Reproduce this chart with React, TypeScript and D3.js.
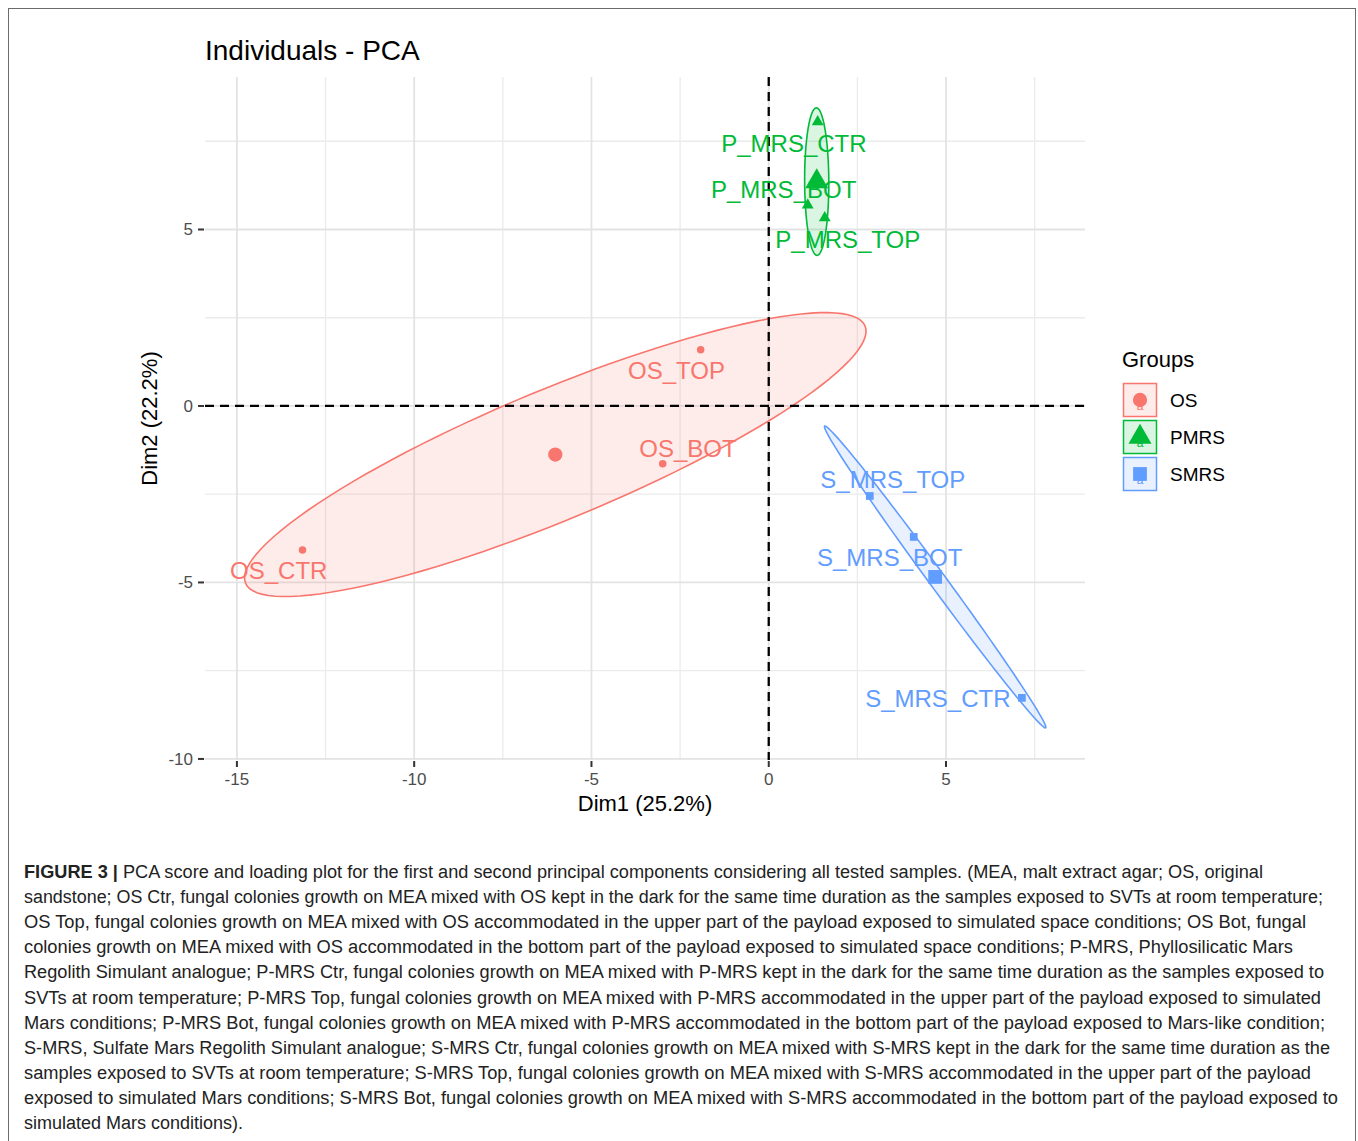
import React from "react";
import * as d3 from "d3";

// ---------- data ----------
const groups = ["OS", "PMRS", "SMRS"];
const groupColors = ["#F8766D", "#00BA38", "#619CFF"];
const sampleNames = [
  "OS_TOP", "OS_BOT", "OS_CTR",
  "P_MRS_CTR", "P_MRS_BOT", "P_MRS_TOP",
  "S_MRS_TOP", "S_MRS_BOT", "S_MRS_CTR",
];
const sampleGroups = ["OS", "OS", "OS", "PMRS", "PMRS", "PMRS", "SMRS", "SMRS", "SMRS"];
const dim1 = [-1.92, -2.99, -13.15, 1.38, 1.1, 1.58, 2.85, 4.09, 7.14];
const dim2 = [1.59, -1.64, -4.08, 8.05, 5.69, 5.33, -2.55, -3.71, -8.27];
// repelled label anchors (data units, text baseline)
const labelDim1 = [-2.6, -2.28, -13.82, 0.71, 0.42, 2.23, 3.5, 3.41, 4.77];
const labelDim2 = [0.76, -1.44, -4.9, 7.2, 5.89, 4.48, -2.32, -4.53, -8.53];

const xTicks = [-15, -10, -5, 0, 5];
const yTicks = [-10, -5, 0, 5];
const xMinor = [-12.5, -7.5, -2.5, 2.5, 7.5];
const yMinor = [-7.5, -2.5, 2.5, 7.5];
const xDomain = [-15.9, 8.92];
const yDomain = [-10.03, 9.32];

const title = "Individuals - PCA";
const xTitle = "Dim1 (25.2%)";
const yTitle = "Dim2 (22.2%)";
const legendTitle = "Groups";

const captionLines = [
  "PCA score and loading plot for the first and second principal components considering all tested samples. (MEA, malt extract agar; OS, original",
  "sandstone; OS Ctr, fungal colonies growth on MEA mixed with OS kept in the dark for the same time duration as the samples exposed to SVTs at room temperature;",
  "OS Top, fungal colonies growth on MEA mixed with OS accommodated in the upper part of the payload exposed to simulated space conditions; OS Bot, fungal",
  "colonies growth on MEA mixed with OS accommodated in the bottom part of the payload exposed to simulated space conditions; P-MRS, Phyllosilicatic Mars",
  "Regolith Simulant analogue; P-MRS Ctr, fungal colonies growth on MEA mixed with P-MRS kept in the dark for the same time duration as the samples exposed to",
  "SVTs at room temperature; P-MRS Top, fungal colonies growth on MEA mixed with P-MRS accommodated in the upper part of the payload exposed to simulated",
  "Mars conditions; P-MRS Bot, fungal colonies growth on MEA mixed with P-MRS accommodated in the bottom part of the payload exposed to Mars-like condition;",
  "S-MRS, Sulfate Mars Regolith Simulant analogue; S-MRS Ctr, fungal colonies growth on MEA mixed with S-MRS kept in the dark for the same time duration as the",
  "samples exposed to SVTs at room temperature; S-MRS Top, fungal colonies growth on MEA mixed with S-MRS accommodated in the upper part of the payload",
  "exposed to simulated Mars conditions; S-MRS Bot, fungal colonies growth on MEA mixed with S-MRS accommodated in the bottom part of the payload exposed to",
  "simulated Mars conditions).",
];
const captionLabel = "FIGURE 3 | ";
const captionEnds = [1263, 1323, 1306, 1293, 1324, 1321, 1325, 1330, 1311, 1338, 243];

// ellipse radius: sqrt(2 * qf(0.5, 2, 2)) = sqrt(2)
const ellipseRadius = Math.SQRT2;

// ---------- layout ----------
const W = 1358;
const H = 1141;
const panel = { left: 205, right: 1085, top: 77, bottom: 760 };
const FONT = "'Liberation Sans', Arial, Helvetica, sans-serif";

const symbolFor = (g: string) =>
  g === "OS" ? d3.symbolCircle : g === "PMRS" ? d3.symbolTriangle : d3.symbolSquare;

export default function App() {
  const x = d3.scaleLinear().domain(xDomain).range([panel.left, panel.right]);
  const y = d3.scaleLinear().domain(yDomain).range([panel.bottom, panel.top]);

  const groupData = groups.map((g, gi) => {
    const idx = sampleNames.map((_, i) => i).filter((i) => sampleGroups[i] === g);
    const xs = idx.map((i) => dim1[i]);
    const ys = idx.map((i) => dim2[i]);
    const mx = d3.mean(xs) as number;
    const my = d3.mean(ys) as number;
    const n = xs.length;
    let a = 0, b = 0, c = 0;
    for (let k = 0; k < n; k++) {
      a += (xs[k] - mx) ** 2;
      b += (xs[k] - mx) * (ys[k] - my);
      c += (ys[k] - my) ** 2;
    }
    a /= n - 1; b /= n - 1; c /= n - 1;
    const half = (a + c) / 2;
    const disc = Math.sqrt(((a - c) / 2) ** 2 + b * b);
    const l1 = half + disc;
    const l2 = Math.max(half - disc, 0);
    const th = 0.5 * Math.atan2(2 * b, a - c);
    const pts: [number, number][] = d3.range(0, 361, 3).map((deg) => {
      const t = (deg * Math.PI) / 180;
      const u = ellipseRadius * Math.sqrt(l1) * Math.cos(t);
      const v = ellipseRadius * Math.sqrt(l2) * Math.sin(t);
      return [mx + u * Math.cos(th) - v * Math.sin(th), my + u * Math.sin(th) + v * Math.cos(th)];
    });
    return { g, color: groupColors[gi], mx, my, pts };
  });

  const line = d3
    .line<[number, number]>()
    .x((d) => x(d[0]))
    .y((d) => y(d[1]))
    .curve(d3.curveLinearClosed);

  const colorOf = (g: string) => groupColors[groups.indexOf(g)];
  const smallSym = (g: string) =>
    d3.symbol().type(symbolFor(g)).size(g === "OS" ? 44 : g === "PMRS" ? 60 : 60)() as string;
  const bigSym = (g: string) =>
    d3.symbol().type(symbolFor(g)).size(g === "OS" ? 160 : g === "PMRS" ? 230 : 190)() as string;

  const legendRows = groups.map((g, i) => ({ g, color: groupColors[i], top: 383 + i * 37 }));

  return (
    <svg
      width={W}
      height={H}
      style={{ position: "absolute", left: 0, top: 0, display: "block", background: "#fff" }}
      fontFamily={FONT}
    >
      <rect x={0} y={0} width={W} height={H} fill="#fff" />
      <rect x={8.5} y={8.5} width={1347} height={1145} fill="none" stroke="#6b6b6b" strokeWidth={1} />

      {/* title */}
      <text x={205} y={60} fontSize={28} fill="#000">{title}</text>

      {/* grid */}
      <g stroke="#ebebeb" strokeWidth={1.3}>
        {xMinor.map((v) => (
          <line key={"xm" + v} x1={x(v)} x2={x(v)} y1={panel.top} y2={panel.bottom} />
        ))}
        {yMinor.map((v) => (
          <line key={"ym" + v} y1={y(v)} y2={y(v)} x1={panel.left} x2={panel.right} />
        ))}
      </g>
      <g stroke="#e3e3e3" strokeWidth={1.8}>
        {xTicks.map((v) => (
          <line key={"xg" + v} x1={x(v)} x2={x(v)} y1={panel.top} y2={panel.bottom} />
        ))}
        {yTicks.map((v) => (
          <line key={"yg" + v} y1={y(v)} y2={y(v)} x1={panel.left} x2={panel.right} />
        ))}
      </g>

      {/* ellipses */}
      {groupData.map((d) => (
        <path
          key={"el" + d.g}
          d={line(d.pts) as string}
          fill={d.color}
          fillOpacity={0.14}
          stroke={d.color}
          strokeWidth={1.6}
        />
      ))}

      {/* reference lines */}
      <g stroke="#000" strokeWidth={2.3} strokeDasharray="9,6">
        <line x1={panel.left} x2={panel.right} y1={y(0)} y2={y(0)} />
        <line x1={x(0)} x2={x(0)} y1={panel.top} y2={panel.bottom} />
      </g>

      {/* individual points */}
      {sampleNames.map((s, i) => (
        <path
          key={"pt" + s}
          d={smallSym(sampleGroups[i])}
          transform={`translate(${x(dim1[i])},${y(dim2[i])})`}
          fill={colorOf(sampleGroups[i])}
        />
      ))}
      {/* group centroids */}
      {groupData.map((d) => (
        <path
          key={"ct" + d.g}
          d={bigSym(d.g)}
          transform={`translate(${x(d.mx)},${y(d.my)})`}
          fill={d.color}
        />
      ))}

      {/* labels */}
      {sampleNames.map((s, i) => (
        <text
          key={"lb" + s}
          x={x(labelDim1[i])}
          y={y(labelDim2[i])}
          textAnchor="middle"
          fontSize={24}
          fill={colorOf(sampleGroups[i])}
        >
          {s}
        </text>
      ))}

      {/* axes */}
      <g stroke="#333" strokeWidth={2}>
        {yTicks.map((v) => (
          <line key={"yt" + v} x1={198} x2={204} y1={y(v)} y2={y(v)} />
        ))}
        {xTicks.map((v) => (
          <line key={"xt" + v} x1={x(v)} x2={x(v)} y1={761} y2={767} />
        ))}
      </g>
      {yTicks.map((v) => (
        <text key={"ytl" + v} x={193} y={y(v) + 6} textAnchor="end" fontSize={17} fill="#4d4d4d">
          {v < 0 ? "-" + Math.abs(v) : String(v)}
        </text>
      ))}
      {xTicks.map((v) => (
        <text key={"xtl" + v} x={x(v)} y={785} textAnchor="middle" fontSize={17} fill="#4d4d4d">
          {v < 0 ? "-" + Math.abs(v) : String(v)}
        </text>
      ))}
      <text x={(panel.left + panel.right) / 2} y={811} textAnchor="middle" fontSize={22} fill="#000">
        {xTitle}
      </text>
      <text
        transform={`translate(157,${(panel.top + panel.bottom) / 2}) rotate(-90)`}
        textAnchor="middle"
        fontSize={22}
        fill="#000"
      >
        {yTitle}
      </text>

      {/* legend */}
      <text x={1122} y={367} fontSize={22} fill="#000">{legendTitle}</text>
      {legendRows.map((r) => (
        <g key={"lg" + r.g}>
          <rect
            x={1123.5}
            y={r.top + 0.5}
            width={33}
            height={33}
            fill={r.color}
            fillOpacity={0.14}
            stroke={r.color}
            strokeWidth={1.5}
          />
          <text x={1140} y={r.top + 27} textAnchor="middle" fontSize={12} fill={r.color}>a</text>
          <path d={bigSym(r.g)} transform={`translate(1140,${r.top + 17})`} fill={r.color} />
          <text x={1170} y={r.top + 24} fontSize={19} fill="#000">{r.g}</text>
        </g>
      ))}

      {/* caption */}
      {captionLines.map((ln, i) => (
        <text
          key={"cap" + i}
          x={24}
          y={878 + i * 25.1}
          fontSize={18}
          fill="#222"
          textLength={captionEnds[i] - 24}
          lengthAdjust="spacingAndGlyphs"
        >
          {i === 0 ? <tspan fontWeight="bold">{captionLabel}</tspan> : null}
          {ln}
        </text>
      ))}
    </svg>
  );
}
